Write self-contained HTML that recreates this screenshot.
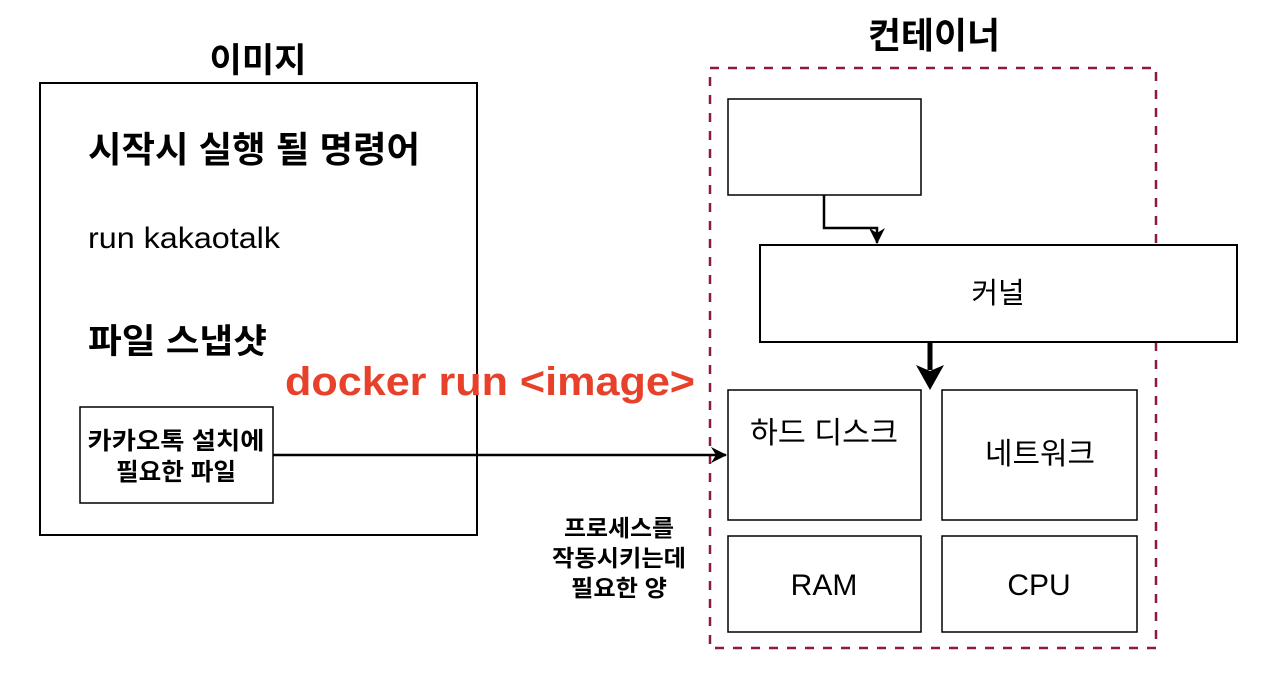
<!DOCTYPE html>
<html><head><meta charset="utf-8"><style>
html,body{margin:0;padding:0;background:#fff;}
svg{display:block;}
text{font-family:"Liberation Sans","Noto Sans CJK KR",sans-serif;fill:#000;}
</style></head><body>
<svg width="1280" height="679" viewBox="0 0 1280 679" xmlns="http://www.w3.org/2000/svg">
<defs>
<marker id="a" markerWidth="16" markerHeight="16" refX="15" refY="8" orient="auto" markerUnits="userSpaceOnUse" viewBox="0 0 16 16">
<path d="M0,0 L16,8 L0,16 L5,8 Z" fill="#000"/></marker>
</defs>
<text x="258" y="72" font-size="34" font-weight="bold" text-anchor="middle" textLength="97" lengthAdjust="spacingAndGlyphs">이미지</text>
<rect x="40" y="83" width="437" height="452" fill="none" stroke="#000" stroke-width="2"/>
<text x="88" y="162" font-size="36" font-weight="bold" textLength="332" lengthAdjust="spacingAndGlyphs">시작시 실행 될 명령어</text>
<text x="88" y="248" font-size="30" textLength="192" lengthAdjust="spacingAndGlyphs">run kakaotalk</text>
<text x="88" y="353" font-size="34" font-weight="bold" textLength="179" lengthAdjust="spacingAndGlyphs">파일 스냅샷</text>
<rect x="80" y="407" width="193" height="96" fill="#fff" stroke="#000" stroke-width="1.5"/>
<text x="176" y="449" font-size="24" font-weight="bold" text-anchor="middle" textLength="177" lengthAdjust="spacingAndGlyphs">카카오톡 설치에</text>
<text x="176" y="480" font-size="24" font-weight="bold" text-anchor="middle" textLength="120" lengthAdjust="spacingAndGlyphs">필요한 파일</text>
<text x="285" y="395" font-size="40" font-weight="bold" style="fill:#e8412b" textLength="410" lengthAdjust="spacingAndGlyphs">docker run &lt;image&gt;</text>

<text x="934" y="48" font-size="36" font-weight="bold" text-anchor="middle" textLength="132" lengthAdjust="spacingAndGlyphs">컨테이너</text>
<rect x="710" y="68" width="446" height="580" fill="none" stroke="#8b1a3c" stroke-width="2.5" stroke-dasharray="9,9"/>
<rect x="728" y="99" width="193" height="96" fill="#fff" stroke="#000" stroke-width="1.5"/>
<path d="M824,195 V228 H877 V243" fill="none" stroke="#000" stroke-width="2.5" marker-end="url(#a)"/>
<rect x="760" y="245" width="477" height="97" fill="#fff" stroke="#000" stroke-width="2"/>
<text x="998" y="303" font-size="29" text-anchor="middle">커널</text>
<line x1="930" y1="342" x2="930" y2="370" stroke="#000" stroke-width="5"/>
<path d="M916,365 L930,390 L944,365 L930,371 Z" fill="#000"/>
<line x1="273" y1="455" x2="726" y2="455" stroke="#000" stroke-width="2.5" marker-end="url(#a)"/>
<rect x="728" y="390" width="193" height="130" fill="#fff" stroke="#000" stroke-width="1.5"/>
<text x="824" y="443" font-size="30" text-anchor="middle" textLength="148" lengthAdjust="spacingAndGlyphs">하드 디스크</text>
<rect x="942" y="390" width="195" height="130" fill="#fff" stroke="#000" stroke-width="1.5"/>
<text x="1040" y="464" font-size="30" text-anchor="middle" textLength="110" lengthAdjust="spacingAndGlyphs">네트워크</text>
<rect x="728" y="536" width="193" height="96" fill="#fff" stroke="#000" stroke-width="1.5"/>
<text x="824" y="595" font-size="30" text-anchor="middle">RAM</text>
<rect x="942" y="536" width="195" height="96" fill="#fff" stroke="#000" stroke-width="1.5"/>
<text x="1039" y="595" font-size="30" text-anchor="middle">CPU</text>
<text x="619" y="536" font-size="23" font-weight="bold" text-anchor="middle" textLength="110" lengthAdjust="spacingAndGlyphs">프로세스를</text>
<text x="619" y="566" font-size="23" font-weight="bold" text-anchor="middle" textLength="134" lengthAdjust="spacingAndGlyphs">작동시키는데</text>
<text x="619" y="596" font-size="23" font-weight="bold" text-anchor="middle" textLength="96" lengthAdjust="spacingAndGlyphs">필요한 양</text>
</svg>
</body></html>
